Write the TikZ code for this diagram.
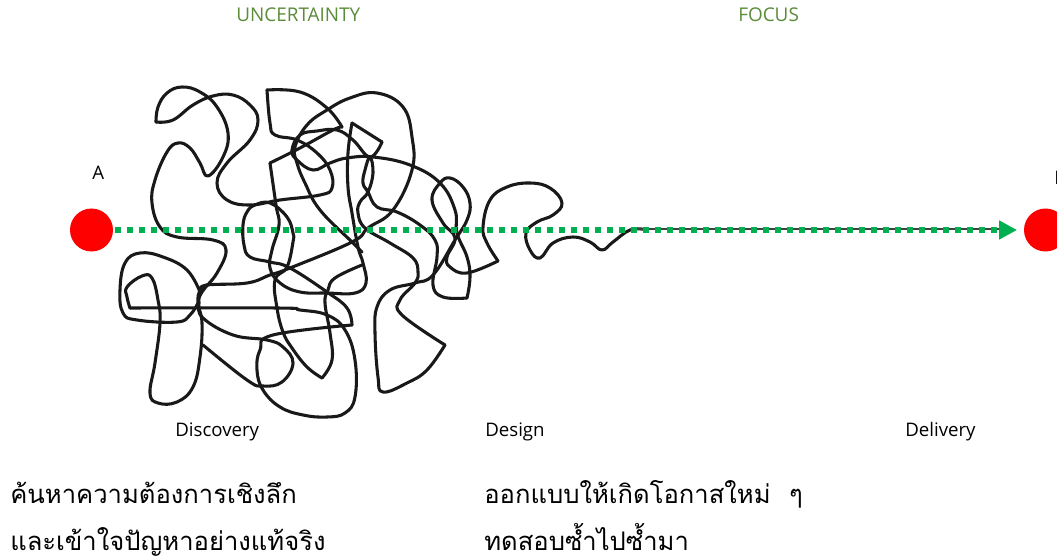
\documentclass[tikz,border=0pt]{standalone}
\usepackage{fontspec}
\setmainfont{Open Sans}
\newfontfamily\thaifont[Script=Thai]{Loma}
\usetikzlibrary{arrows.meta}
\definecolor{flowgreen}{HTML}{00B050}
\definecolor{headgreen}{HTML}{5B8C3A}
\begin{document}
\begin{tikzpicture}[x=0.75pt,y=-0.75pt,
  scrib/.style={draw=black!90,line width=2.3pt,line join=round,line cap=round},
  dotnode/.style={circle,fill=red,draw=none,minimum size=32.25pt,inner sep=0pt},
  head/.style={inner sep=0pt,anchor=base west,text=headgreen,font=\fontsize{14.2pt}{16pt}\selectfont},
  lab/.style={inner sep=0pt,anchor=base west,text=black,font=\fontsize{14pt}{16pt}\selectfont},
  thai/.style={inner sep=0pt,anchor=base west,text=black,font=\thaifont\fontsize{19.2pt}{23pt}\selectfont}]
\clip (0,0) rectangle (1057,556);
\fill[white] (0,0) rectangle (1057,556);
\draw[scrib] plot[smooth,tension=0.7] coordinates {(156,122)(158,107)(167,93)(182,87)(200,92)(217,107)(228,133)(223,157)(208,176)(200,163)(190,148)(178,143)(167,152)(155,180)(152,203)(160,227)(177,237)(213,240)(226,250)(217,273)(202,292)(199,303)(203,318)(233,335)(267,340)(283,347)(293,363)(282,382)(263,386)(247,380)(203,345)};
\draw[scrib] plot[smooth,tension=0.7] coordinates {(156,122)(173,120)(193,105)(213,96)(233,95)(250,105)(258,120)(250,140)(227,163)(217,183)(227,200)(250,205)(280,200)(320,195)(332,188)(330,170)(317,153)(297,140)(275,135)(270,123)(267,90)};
\draw[scrib] plot[smooth,tension=0.7] coordinates {(267,90)(300,92)(327,108)(342,127)};
\draw[scrib] plot[smooth,tension=0.7] coordinates {(342,127)(333,130)(300,148)(270,163)};
\draw[scrib] plot[smooth,tension=0.7] coordinates {(270,163)(276,205)(279,225)(272,250)(270,268)(280,283)(300,292)(327,293)(355,293)(366,283)(363,263)(358,247)(352,213)(348,187)(348,153)(352,123)};
\draw[scrib] plot[smooth,tension=0.7] coordinates {(352,123)(382,142)};
\draw[scrib] plot[smooth,tension=0.7] coordinates {(382,142)(370,157)(353,140)(337,130)(317,131)(300,135)(292,150)(297,160)(313,170)(330,163)(347,158)(373,157)(410,165)(440,183)(455,210)(457,233)(467,257)(470,277)(467,298)};
\draw[scrib] plot[smooth,tension=0.7] coordinates {(467,298)(443,297)(433,285)(437,257)(435,240)(420,225)(397,212)(377,207)(368,192)(363,183)(365,170)(370,157)(373,173)(368,192)(360,202)(358,213)(365,228)(390,243)(413,258)(418,272)(415,283)(400,300)(402,315)(445,345)};
\draw[scrib] plot[smooth,tension=0.7] coordinates {(445,345)(427,370)(407,383)(383,392)(378,377)(375,333)(377,307)(390,290)(415,283)(433,275)(455,240)(467,220)(470,203)(463,187)(450,178)(440,183)(432,200)(443,223)(455,238)(447,257)(450,267)(467,273)(498,261)};
\draw[scrib] plot[smooth,tension=0.7] coordinates {(498,261)(487,243)(483,227)(490,200)(507,187)(530,183)(550,188)(562,203)(553,215)(537,222)(526,233)(530,250)(540,258)(553,243)(573,237)(590,242)(602,250)(613,242)(630,230)(645,229.5)};
\draw[scrib] plot[smooth,tension=0.7] coordinates {(200,290)(207,285)(247,283)(270,275)(290,268)(352,242)(368,228)(393,210)(412,170)(412,137)(403,107)(377,93)(350,98)(327,110)(307,125)(295,147)(297,163)(305,183)(320,210)(352,242)(362,252)};
\draw[scrib] plot[smooth,tension=0.7] coordinates {(130,308)(277,308)(300,310)(327,315)(345,330)(355,360)(355,397)(345,413)(327,417)(303,415)(280,407)(263,390)(257,370)(260,350)(273,335)(352,325)};
\draw[scrib] plot[smooth,tension=0.7] coordinates {(352,325)(347,308)(327,292)(290,268)(270,262)(250,257)(244,245)(243,225)(247,212)(255,205)(270,203)(287,217)(293,233)(293,242)(287,267)(275,280)(277,308)(283,332)(292,348)(307,367)(322,378)};
\draw[scrib] plot[smooth,tension=0.7] coordinates {(322,378)(332,360)(330,333)(325,303)(328,290)(335,278)(362,265)};
\draw[scrib] plot[smooth,tension=0.7] coordinates {(130,308)(127,297)(127,287)(142,276)(152,278)(158,300)(160,323)(155,363)(150,393)(158,403)(177,402)(193,387)(200,357)(202,323)(198,303)(200,290)(207,285)};
\draw[scrib] plot[smooth,tension=0.7] coordinates {(200,292)(187,270)(163,257)(140,253)(125,263)(120,290)(123,313)(137,320)(177,322)(190,315)(198,303)};
\node[dotnode] (A) at (91.5,230) {};
\node[dotnode] (B) at (1045.5,230) {};
\draw[draw=black!75,line width=1.5pt] (630,229.5) -- (999,229.5);
\draw[flowgreen,line width=4.4pt,dash pattern=on 4.5pt off 4.5pt,shorten <=1.5pt,shorten >=5pt,
  -{Triangle[length=13.5pt,width=13.5pt]}] (A) -- (B);
\node[head] (unc) at (236,22) {UNCERTAINTY};
\node[head] (foc) at (738,22) {FOCUS};
\node[lab] (la) at (92,180) {A};
\node[lab] (lb) at (1054,185) {B};
\node[lab] (dis) at (175,436) {Discovery};
\node[lab] (des) at (485,436) {Design};
\node[lab] (del) at (905,436) {Delivery};
\node[thai] (t1) at (10,503) {ค้นหาความต้องการเชิงลึก};
\node[thai] (t2) at (10,550) {และเข้าใจปัญหาอย่างแท้จริง};
\node[thai] (t3) at (484,503) {ออกแบบให้เกิดโอกาสใหม่\hspace{7.5pt} ๆ};
\node[thai] (t4) at (484,550) {ทดสอบซ้ำไปซ้ำมา};
\end{tikzpicture}
\end{document}
